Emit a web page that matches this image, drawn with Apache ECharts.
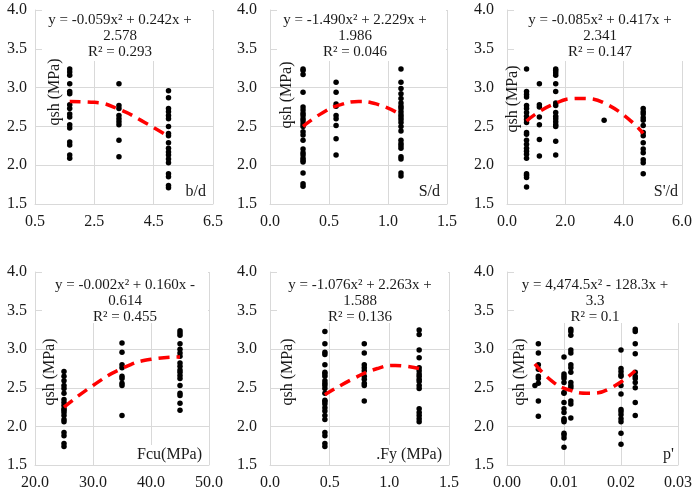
<!DOCTYPE html>
<html lang="en" style="height: 100%">
<head>
  <meta charset="utf-8">
</head>
<body style="height: 100%; margin: 0; background: #fff">
  <div id="container" style="width: 695px; height: 491px"></div>

  <script type="text/javascript" src="https://fastly.jsdelivr.net/npm/echarts@6.0.0/dist/echarts.min.js"></script>
  <script type="text/javascript">
    // qsh (MPa) readings grouped by the x value they were plotted against
    var bdCols = [1.67, 3.33, 5.0];
    var bdQsh = [
      [3.24, 3.20, 3.16, 3.05, 2.95, 2.92, 2.78, 2.73, 2.66, 2.62, 2.52, 2.48, 2.30, 2.26, 2.13, 2.09],
      [3.05, 2.77, 2.73, 2.64, 2.60, 2.56, 2.52, 2.32, 2.11],
      [2.96, 2.87, 2.73, 2.69, 2.64, 2.60, 2.50, 2.41, 2.38, 2.29, 2.22, 2.17, 2.13, 2.08, 2.03, 1.89, 1.85, 1.74, 1.71]
    ];
    var bdTrend = [[1.67, 2.82], [2.5, 2.81], [3.33, 2.72], [4.2, 2.55], [5.0, 2.37]];

    var sdCols = [0.28, 0.56, 1.11];
    var sdQsh = [
      [3.24, 3.22, 3.17, 2.94, 2.75, 2.71, 2.67, 2.64, 2.60, 2.57, 2.53, 2.50, 2.43, 2.39, 2.32, 2.21, 2.16, 2.13, 2.09, 2.06, 2.04, 1.90, 1.76, 1.73],
      [3.07, 2.94, 2.79, 2.76, 2.64, 2.60, 2.51, 2.34, 2.13],
      [3.24, 3.07, 2.99, 2.92, 2.86, 2.80, 2.76, 2.73, 2.69, 2.65, 2.62, 2.59, 2.55, 2.50, 2.44, 2.32, 2.28, 2.25, 2.22, 2.11, 2.08, 1.90, 1.86]
    ];
    var sdTrend = [[0.28, 2.50], [0.45, 2.68], [0.6, 2.78], [0.75, 2.82], [0.9, 2.79], [1.11, 2.65]];

    var spdCols = [0.67, 1.11, 1.67, 3.33, 4.67];
    var spdQsh = [
      [3.24, 2.95, 2.91, 2.88, 2.77, 2.73, 2.68, 2.63, 2.59, 2.55, 2.42, 2.40, 2.32, 2.27, 2.22, 2.18, 2.14, 2.09, 1.89, 1.87, 1.84, 1.72],
      [3.05, 2.78, 2.75, 2.62, 2.52, 2.33, 2.12],
      [3.24, 3.22, 3.19, 3.16, 3.05, 2.95, 2.80, 2.77, 2.68, 2.63, 2.60, 2.56, 2.52, 2.50, 2.31, 2.13],
      [2.58],
      [2.73, 2.69, 2.66, 2.61, 2.58, 2.51, 2.42, 2.38, 2.29, 2.21, 2.16, 2.07, 2.03, 1.89]
    ];
    var spdTrend = [[0.67, 2.57], [1.5, 2.77], [2.45, 2.86], [3.5, 2.77], [4.67, 2.41]];

    var fcuCols = [25, 35, 45];
    var fcuQsh = [
      [2.71, 2.65, 2.59, 2.53, 2.49, 2.43, 2.35, 2.31, 2.27, 2.23, 2.21, 2.18, 2.14, 2.09, 2.06, 1.92, 1.88, 1.78, 1.74],
      [3.08, 2.96, 2.80, 2.76, 2.65, 2.62, 2.56, 2.53, 2.14],
      [3.24, 3.21, 3.18, 3.07, 3.00, 2.95, 2.91, 2.82, 2.78, 2.73, 2.70, 2.66, 2.62, 2.53, 2.43, 2.40, 2.30, 2.21]
    ];
    var fcuTrend = [[25, 2.25], [30, 2.53], [35, 2.75], [40, 2.87], [45, 2.90]];

    var fyCols = [0.46, 0.79, 1.25];
    var fyQsh = [
      [3.23, 3.07, 2.96, 2.93, 2.80, 2.70, 2.68, 2.65, 2.59, 2.56, 2.53, 2.49, 2.43, 2.34, 2.32, 2.29, 2.24, 2.20, 2.14, 2.09, 1.92, 1.88, 1.78, 1.74],
      [3.07, 2.95, 2.80, 2.76, 2.72, 2.65, 2.61, 2.56, 2.53, 2.33],
      [3.25, 3.19, 2.99, 2.89, 2.76, 2.72, 2.68, 2.65, 2.61, 2.58, 2.53, 2.49, 2.23, 2.18, 2.14, 2.10, 2.06]
    ];
    var fyTrend = [[0.46, 2.41], [0.7, 2.62], [0.9, 2.75], [1.05, 2.79], [1.25, 2.75]];

    var rhoCols = [0.0049, 0.0055, 0.010, 0.0112, 0.020, 0.0225];
    var rhoQsh = [
      [2.53],
      [3.07, 2.95, 2.80, 2.74, 2.65, 2.62, 2.56, 2.33, 2.13],
      [2.90, 2.68, 2.65, 2.62, 2.57, 2.44, 2.43, 2.31, 2.23, 2.18, 2.10, 2.08, 2.06, 1.91, 1.89, 1.85, 1.73],
      [3.26, 3.23, 3.18, 2.99, 2.95, 2.80, 2.76, 2.70, 2.57, 2.53, 2.50, 2.33, 2.29, 2.11],
      [2.99, 2.75, 2.71, 2.67, 2.65, 2.53, 2.42, 2.22, 2.19, 2.15, 2.10, 2.06, 1.91, 1.77],
      [3.26, 3.23, 3.07, 2.94, 2.70, 2.65, 2.62, 2.57, 2.50, 2.31, 2.14]
    ];
    var rhoTrend = [[0.0049, 2.81], [0.008, 2.58], [0.011, 2.47], [0.0145, 2.43], [0.018, 2.49], [0.0225, 2.72]];

    var xNames = ['b/d', 'S/d', "S'/d", 'Fcu(MPa)', '.Fy (MPa)', "p'"];
    var equations = [
      ['y = -0.059x\u00b2 + 0.242x +', '2.578', 'R\u00b2 = 0.293'],
      ['y = -1.490x\u00b2 + 2.229x +', '1.986', 'R\u00b2 = 0.046'],
      ['y = -0.085x\u00b2 + 0.417x +', '2.341', 'R\u00b2 = 0.147'],
      ['y = -0.002x\u00b2 + 0.160x -', '0.614', 'R\u00b2 = 0.455'],
      ['y = -1.076x\u00b2 + 2.263x +', '1.588', 'R\u00b2 = 0.136'],
      ['y = 4,474.5x\u00b2 - 128.3x +', '3.3', 'R\u00b2 = 0.1']
    ];

    var panels = [
      { cols: bdCols, qsh: bdQsh, trend: bdTrend, min: 0.5, max: 6.5, step: 2, dec: 1 },
      { cols: sdCols, qsh: sdQsh, trend: sdTrend, min: 0, max: 1.5, step: 0.5, dec: 1 },
      { cols: spdCols, qsh: spdQsh, trend: spdTrend, min: 0, max: 6, step: 2, dec: 1 },
      { cols: fcuCols, qsh: fcuQsh, trend: fcuTrend, min: 20, max: 50, step: 10, dec: 1 },
      { cols: fyCols, qsh: fyQsh, trend: fyTrend, min: 0, max: 1.5, step: 0.5, dec: 1 },
      { cols: rhoCols, qsh: rhoQsh, trend: rhoTrend, min: 0, max: 0.03, step: 0.01, dec: 2 }
    ];

    // plot boxes [left, top, width, height]
    var boxes = [
      [35, 10, 178, 194], [270, 10, 177, 194], [507, 10, 178, 194],
      [35, 272, 174, 195], [270, 272, 179, 195], [507, 272, 174, 195]
    ];
    // where the equation block and the rotated y title sit in each panel
    var eqCenter = [[120, 12], [355, 12], [600, 12], [125, 277], [360, 277], [595, 277]];
    var yTitlePos = [[55, 92], [287, 95], [513, 99], [50, 372], [288, 372], [520, 372]];

    var FONT = 'Liberation Serif';
    var GRID_COLOR = '#d9d9d9';
    var TEXT = '#1a1a1a';

    var dom = document.getElementById('container');
    var myChart = echarts.init(dom, null, { renderer: 'canvas' });

    var grid = [], xAxis = [], yAxis = [], series = [], graphic = [];

    panels.forEach(function (p, i) {
      var b = boxes[i];
      grid.push({ left: b[0], top: b[1], width: b[2], height: b[3], containLabel: false });
      xAxis.push({
        gridIndex: i, type: 'value', min: p.min, max: p.max, interval: p.step,
        axisLine: { show: true, lineStyle: { color: GRID_COLOR } },
        axisTick: { show: false },
        splitLine: { show: true, lineStyle: { color: GRID_COLOR } },
        axisLabel: {
          fontFamily: FONT, fontSize: 16, color: TEXT, margin: 10,
          formatter: function (v) { return v.toFixed(p.dec); }
        }
      });
      yAxis.push({
        gridIndex: i, type: 'value', min: 1.5, max: 4.0, interval: 0.5,
        axisLine: { show: true, lineStyle: { color: GRID_COLOR } },
        axisTick: { show: false },
        splitLine: { show: true, lineStyle: { color: GRID_COLOR } },
        axisLabel: {
          fontFamily: FONT, fontSize: 16, color: TEXT, margin: i % 3 === 0 ? 8 : 13,
          formatter: function (v) { return v.toFixed(1); }
        }
      });

      var pts = [];
      p.cols.forEach(function (x, c) {
        p.qsh[c].forEach(function (y) { pts.push([x, y]); });
      });
      series.push({
        type: 'scatter', xAxisIndex: i, yAxisIndex: i, data: pts,
        symbolSize: 5.5, itemStyle: { color: '#000', opacity: 1 }, z: 3
      });
      series.push({
        type: 'line', xAxisIndex: i, yAxisIndex: i, data: p.trend,
        smooth: true, showSymbol: false, z: 4,
        lineStyle: { color: '#ff0000', width: 3.5, type: [11, 7] }
      });

      // equation label with its white box, as placed in the original
      graphic.push({
        type: 'rect', z: 50,
        shape: { x: b[0] + 7, y: b[1] - 2, width: b[2] - 8, height: 53 },
        style: { fill: '#fff' }
      });
      graphic.push({
        type: 'text', z: 51, x: eqCenter[i][0], y: eqCenter[i][1],
        style: {
          text: equations[i].join('\n'), align: 'center', verticalAlign: 'top',
          font: '15px ' + FONT, fill: TEXT, lineHeight: 16
        }
      });
      // y axis title, rotated, sitting inside the plot
      graphic.push({
        type: 'text', z: 52, x: yTitlePos[i][0], y: yTitlePos[i][1], rotation: Math.PI / 2,
        style: {
          text: 'qsh (MPa)', align: 'center', verticalAlign: 'middle',
          font: '16px ' + FONT, fill: TEXT
        }
      });
      // x axis title, bottom right inside the plot
      graphic.push({
        type: 'text', z: 52, x: b[0] + b[2] - 5, y: b[1] + b[3] - 12,
        style: {
          text: xNames[i], align: 'right', verticalAlign: 'middle',
          font: '16px ' + FONT, fill: TEXT, backgroundColor: '#fff', padding: [2, 2]
        }
      });
    });

    myChart.setOption({
      backgroundColor: '#fff',
      animation: false,
      grid: grid,
      xAxis: xAxis,
      yAxis: yAxis,
      series: series,
      graphic: graphic
    });

    window.addEventListener('resize', myChart.resize);
  </script>
</body>
</html>
